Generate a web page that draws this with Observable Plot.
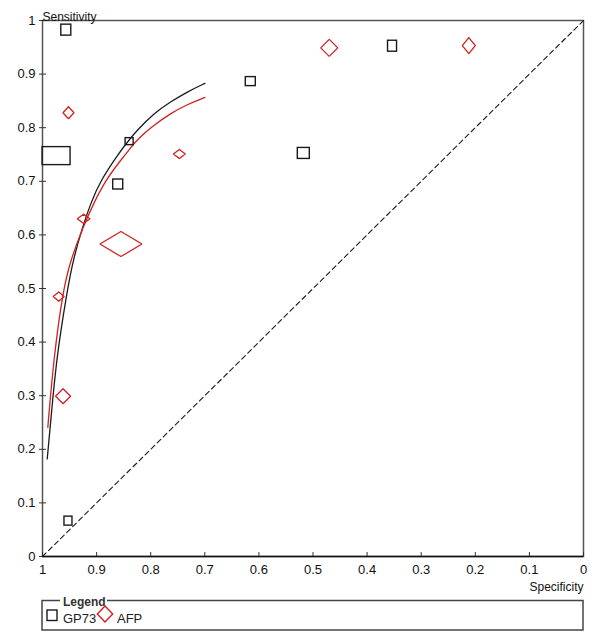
<!DOCTYPE html>
<html>
<head>
<meta charset="utf-8">
<script src="https://cdn.jsdelivr.net/npm/d3@7"></script>
<script src="https://cdn.jsdelivr.net/npm/@observablehq/plot@0.6"></script>
<style>
  html, body { margin: 0; padding: 0; background: #fff; }
  #wrap { position: relative; width: 600px; height: 643px; font-family: "Liberation Sans", Arial, sans-serif; }
  #legend { position: absolute; left: 0; top: 595px; }
</style>
</head>
<body>
<div id="wrap"></div>
<script>
// ---- Data ----
// GP73 studies
const gp73Spec = [0.956, 0.974, 0.839, 0.860, 0.615, 0.517, 0.353, 0.952];
const gp73Sens = [0.982, 0.747, 0.774, 0.694, 0.886, 0.752, 0.952, 0.066];
const gp73WeightSpec = [10, 28, 8, 10, 10, 12, 9, 8];   // relative study weights (negatives)
const gp73WeightSens = [11, 18, 7, 10, 9, 11, 11, 9];   // relative study weights (positives)
// AFP studies
const afpSpec = [0.952, 0.470, 0.212, 0.747, 0.924, 0.855, 0.970, 0.962];
const afpSens = [0.828, 0.949, 0.953, 0.751, 0.630, 0.583, 0.485, 0.299];
const afpWeightSpec = [11, 17, 13, 12, 12.7, 42, 11, 15];
const afpWeightSens = [12, 17, 16, 9, 9.3, 25, 9.3, 15];
// SROC curves
const srocGp73Spec = [0.9913, 0.9852, 0.9741, 0.9543, 0.9436, 0.9260, 0.9112, 0.8927, 0.8594, 0.8404, 0.8249, 0.7942, 0.7633, 0.7324, 0.6998];
const srocGp73Sens = [0.1820, 0.2474, 0.3718, 0.4964, 0.5525, 0.6147, 0.6584, 0.7017, 0.7519, 0.7767, 0.7954, 0.8266, 0.8483, 0.8670, 0.8827];
const srocAfpSpec = [0.9902, 0.9791, 0.9621, 0.9482, 0.9251, 0.9057, 0.8835, 0.8557, 0.8341, 0.8249, 0.7942, 0.7633, 0.7324, 0.6998];
const srocAfpSens = [0.2410, 0.3718, 0.4964, 0.5525, 0.6147, 0.6584, 0.7017, 0.7391, 0.7661, 0.7780, 0.8047, 0.8266, 0.8434, 0.8565];
// chance line
const diagSpec = [1, 0];
const diagSens = [0, 1];
const ticks = [0, 0.1, 0.2, 0.3, 0.4, 0.5, 0.6, 0.7, 0.8, 0.9, 1];

// ---- Layout ----
const W = 600, H = 595;
const mL = 42, mR = 17, mT = 20, mB = 39;
const kx = 1 / (W - mL - mR);   // data units per pixel
const ky = 1 / (H - mT - mB);
const RED = "#d21f1f", BLACK = "#1a1a1a";

const gp = gp73Spec.map((s, i) => ({spec: s, sens: gp73Sens[i], hw: gp73WeightSpec[i] / 2 * kx, hh: gp73WeightSens[i] / 2 * ky}));
const afpPoly = [];
afpSpec.forEach((s, i) => {
  const hw = afpWeightSpec[i] / 2 * kx, hh = afpWeightSens[i] / 2 * ky, y = afpSens[i];
  [[s, y + hh], [s - hw, y], [s, y - hh], [s + hw, y], [s, y + hh]]
    .forEach(([a, b]) => afpPoly.push({id: i, spec: a, sens: b}));
});
const curveG = srocGp73Spec.map((s, i) => ({spec: s, sens: srocGp73Sens[i]}));
const curveA = srocAfpSpec.map((s, i) => ({spec: s, sens: srocAfpSens[i]}));
const diag = diagSpec.map((s, i) => ({spec: s, sens: diagSens[i]}));

const fmt = d => d3.format("")(+d.toFixed(1));

const plot = Plot.plot({
  width: W, height: H,
  marginLeft: mL, marginRight: mR, marginTop: mT, marginBottom: mB,
  style: {fontFamily: '"Liberation Sans", Arial, sans-serif', fontSize: "13px", background: "white", color: "#111"},
  x: {domain: [1, 0]},
  y: {domain: [0, 1]},
  marks: [
    Plot.frame({stroke: "#555", strokeWidth: 1.5}),
    Plot.axisY({ticks, tickSize: 3, tickPadding: 4, tickFormat: fmt, label: null, stroke: "#333"}),
    Plot.axisY({ticks, tickSize: -4, text: null, label: null, stroke: "#333"}),
    Plot.axisX({ticks, tickSize: 1, tickPadding: 7, tickFormat: fmt, label: null, stroke: "#333"}),
    Plot.axisX({ticks, tickSize: -4, text: null, label: null, stroke: "#333"}),
    Plot.ruleY([0], {stroke: "#111", strokeWidth: 1.5}),
    Plot.line(diag, {x: "spec", y: "sens", stroke: BLACK, strokeWidth: 1.1, strokeDasharray: "5,3.5"}),
    Plot.line(curveG, {x: "spec", y: "sens", stroke: BLACK, strokeWidth: 1.3, curve: "basis"}),
    Plot.line(curveA, {x: "spec", y: "sens", stroke: RED, strokeWidth: 1.3, curve: "basis"}),
    Plot.rect(gp, {x1: d => d.spec - d.hw, x2: d => d.spec + d.hw, y1: d => d.sens - d.hh, y2: d => d.sens + d.hh,
      fill: "none", stroke: BLACK, strokeWidth: 1.4}),
    Plot.line(afpPoly, {x: "spec", y: "sens", z: "id", stroke: RED, strokeWidth: 1.3, strokeLinejoin: "miter"}),
    Plot.text(["Sensitivity"], {frameAnchor: "top-left", text: d => d, textAnchor: "start", lineAnchor: "bottom", dy: 0, fontSize: 12}),
    Plot.text(["Specificity"], {frameAnchor: "bottom-right", text: d => d, textAnchor: "end", lineAnchor: "top", dy: 26, fontSize: 12})
  ]
});
document.getElementById("wrap").appendChild(plot);

// ---- Legend ----
const lg = d3.create("svg").attr("id", "legend").attr("width", 600).attr("height", 48)
  .style("font-family", '"Liberation Sans", Arial, sans-serif');
lg.append("rect").attr("x", 42).attr("y", 5.5).attr("width", 541).attr("height", 29.5)
  .attr("fill", "none").attr("stroke", "#444").attr("stroke-width", 1.5);
lg.append("rect").attr("x", 60).attr("y", 2).attr("width", 47).attr("height", 8).attr("fill", "white");
lg.append("text").attr("x", 63).attr("y", 11).attr("font-weight", "bold").attr("font-size", 12).attr("fill", "#333").text("Legend");
lg.append("rect").attr("x", 47).attr("y", 15).attr("width", 10).attr("height", 10.5)
  .attr("fill", "none").attr("stroke", BLACK).attr("stroke-width", 1.4);
lg.append("text").attr("x", 63).attr("y", 28).attr("font-size", 13).attr("fill", "#222").text("GP73");
lg.append("path").attr("d", "M105,11 L112.7,19 L105,27 L97.3,19 Z")
  .attr("fill", "none").attr("stroke", RED).attr("stroke-width", 1.4);
lg.append("text").attr("x", 117).attr("y", 28).attr("font-size", 13).attr("fill", "#222").text("AFP");
document.getElementById("wrap").appendChild(lg.node());
</script>
</body>
</html>
